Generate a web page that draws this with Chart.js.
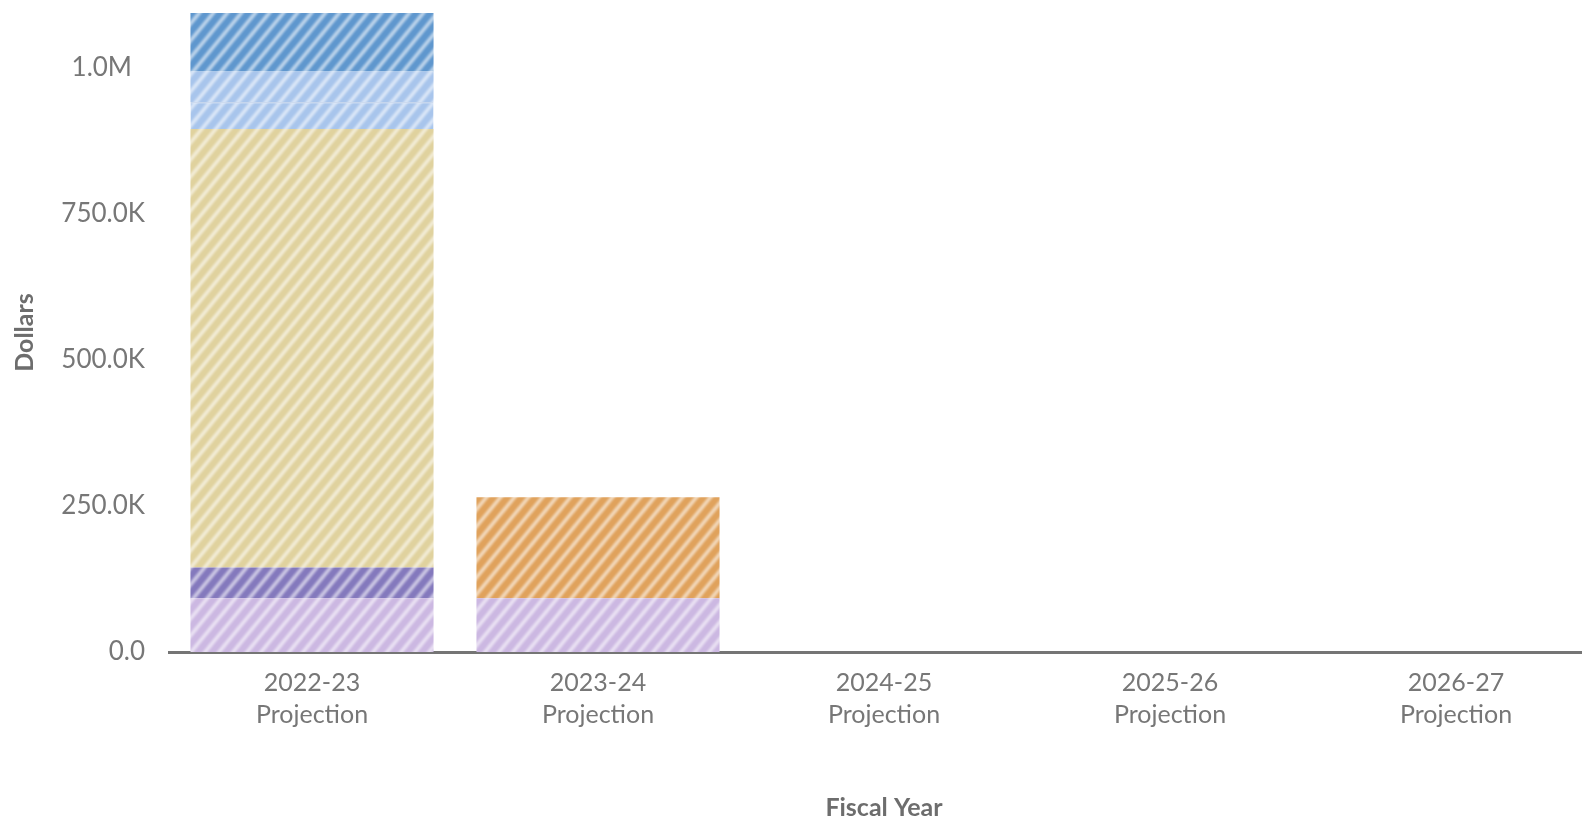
<!DOCTYPE html>
<html>
<head>
<meta charset="utf-8">
<title>Dollars by Fiscal Year</title>
<script src="https://cdn.jsdelivr.net/npm/chart.js@4.4.1/dist/chart.umd.min.js"></script>
<style>
  html, body { margin: 0; padding: 0; background: #ffffff; overflow: hidden; }
  #wrap { width: 1600px; height: 823px; }
</style>
</head>
<body>
<div id="wrap"><canvas id="chart" width="1600" height="823"></canvas></div>
<script>
// Fiscal years (two-line category labels)
const categories = [
  ['2022-23', 'Projection'],
  ['2023-24', 'Projection'],
  ['2024-25', 'Projection'],
  ['2025-26', 'Projection'],
  ['2026-27', 'Projection']
];

// Stacked funding segments, bottom to top (dollars)
const lightPurpleValues = [92000, 92000, null, null, null];
const darkPurpleValues  = [52400, null, null, null, null];
const orangeValues      = [null, 172800, null, null, null];
const yellowValues      = [750200, null, null, null, null];
const lightBlueAValues  = [45900, null, null, null, null];
const lightBlueBValues  = [52700, null, null, null, null];
const darkBlueValues    = [100000, null, null, null, null];

// Value-axis ticks
const yTickValues = [0, 250000, 500000, 750000, 1000000];

// Tick label text: 0.0, 250.0K, ..., 1.0M
function formatDollars(v) {
  if (v === 0) return '0.0';
  if (v >= 1000000) return (v / 1000000).toFixed(1) + 'M\u2002';
  return (v / 1000).toFixed(1) + 'K';
}

// Diagonal light-stripe fill built on a small repeating tile
function stripePattern(base) {
  const w = 14, h = 17;
  const big = document.createElement('canvas');
  big.width = w * 3; big.height = h * 3;
  const b = big.getContext('2d');
  b.fillStyle = base;
  b.fillRect(0, 0, big.width, big.height);
  b.filter = 'blur(0.9px)';
  b.strokeStyle = 'rgba(255,255,255,0.58)';
  b.lineWidth = 3.8;
  b.lineCap = 'butt';
  // lines x/w + y/h = k, extended past the canvas edges
  for (let k = -2; k <= 9; k++) {
    b.beginPath();
    b.moveTo((k + 1) * w, -h);
    b.lineTo((k - 4) * w, 4 * h);
    b.stroke();
  }
  const tile = document.createElement('canvas');
  tile.width = w; tile.height = h;
  tile.getContext('2d').drawImage(big, w, h, w, h, 0, 0, w, h);
  const ctx = document.getElementById('chart').getContext('2d');
  return ctx.createPattern(tile, 'repeat');
}

const barTotal = lightPurpleValues[0] + darkPurpleValues[0] + yellowValues[0] +
  lightBlueAValues[0] + lightBlueBValues[0] + darkBlueValues[0];

function seg(label, data, color, extra) {
  return Object.assign({
    label: label,
    data: data,
    backgroundColor: stripePattern(color),
    borderWidth: 0,
    borderSkipped: false
  }, extra || {});
}

const datasets = [
  seg('Light purple', lightPurpleValues, '#ccb8e2'),
  seg('Dark purple', darkPurpleValues, '#8479bd'),
  seg('Orange', orangeValues, '#e0a25c'),
  seg('Yellow', yellowValues, '#e0d29e'),
  seg('Light blue A', lightBlueAValues, '#a8c5ec', {
    borderWidth: { top: 1, right: 0, bottom: 0, left: 0 },
    borderColor: 'rgba(120,155,210,0.55)'
  }),
  seg('Light blue B', lightBlueBValues, '#a8c5ec'),
  seg('Dark blue', darkBlueValues, '#5f97ce')
];

const gray = '#777777';

new Chart(document.getElementById('chart'), {
  type: 'bar',
  data: { labels: categories, datasets: datasets },
  options: {
    responsive: false,
    animation: false,
    devicePixelRatio: 1,
    layout: { autoPadding: false, padding: { top: 13, right: 1, bottom: 0, left: 0 } },
    plugins: {
      legend: { display: false },
      tooltip: { enabled: false }
    },
    datasets: {
      bar: { barPercentage: 0.85, categoryPercentage: 1.0 }
    },
    scales: {
      x: {
        stacked: true,
        grid: { display: false },
        border: { display: true, color: '#757575', width: 3 },
        ticks: {
          color: gray,
          padding: 7,
          maxRotation: 0,
          autoSkip: false,
          font: { family: 'Lato', size: 25, lineHeight: 1.28 }
        },
        title: {
          display: true,
          text: 'Fiscal Year',
          color: '#6d6d6d',
          padding: { top: 0, bottom: 0 },
          font: { family: 'Lato', size: 25, weight: 'bold', lineHeight: 1.2 }
        },
        afterFit: function (scale) { scale.height = 171; }
      },
      y: {
        stacked: true,
        min: 0,
        max: barTotal,
        grid: { display: false, tickLength: 24 },
        border: { display: false },
        afterBuildTicks: function (scale) {
          scale.ticks = yTickValues.map(function (v) { return { value: v }; });
        },
        ticks: {
          color: gray,
          padding: 0,
          font: { family: 'Lato', size: 26, lineHeight: 1.0 },
          callback: function (v) { return formatDollars(v); }
        },
        title: {
          display: true,
          text: 'Dollars',
          color: '#6d6d6d',
          padding: { top: 10, bottom: 0 },
          font: { family: 'Lato', size: 25, weight: 'bold', lineHeight: 1.2 }
        },
        afterFit: function (scale) { scale.width = 169; }
      }
    }
  }
});
</script>
</body>
</html>
